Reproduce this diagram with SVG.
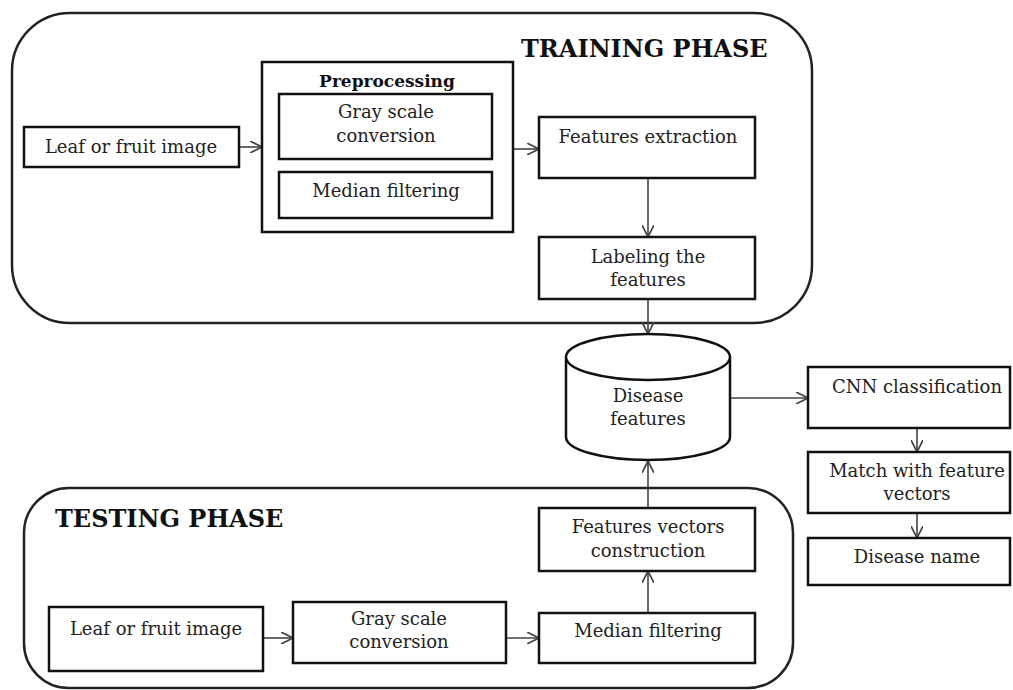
<svg xmlns="http://www.w3.org/2000/svg" width="1013" height="690" viewBox="0 0 1013 690">
<style>
.phase{fill:none;stroke:#222;stroke-width:2.5}
.box{fill:#fff;stroke:#111;stroke-width:2.5}
.t{font-family:"DejaVu Serif","Liberation Serif",serif;font-size:18px;fill:#222;text-anchor:middle}
.h{font-family:"DejaVu Serif","Liberation Serif",serif;font-size:24px;font-weight:bold;fill:#111}
.b{font-family:"DejaVu Serif","Liberation Serif",serif;font-size:17px;font-weight:bold;fill:#111;text-anchor:middle}
.c{fill:none;stroke:#444;stroke-width:1.6;marker-end:url(#arr)}
</style>
<defs>
<marker id="arr" viewBox="0 0 10 10" refX="10" refY="5" markerWidth="12" markerHeight="12" markerUnits="userSpaceOnUse" orient="auto">
<path d="M0,0 L10,5 L0,10" fill="none" stroke="#444" stroke-width="1.4"/>
</marker>
</defs>
<rect width="1013" height="690" fill="#fff"/>
<g id="training-phase">
<rect class="phase" x="12" y="13" width="800" height="310" rx="58" ry="58"/>
<text class="h" x="521" y="57">TRAINING PHASE</text>
</g>
<g id="testing-phase">
<rect class="phase" x="24" y="488" width="769" height="200" rx="45" ry="45"/>
<text class="h" x="55" y="527">TESTING PHASE</text>
</g>
<g id="connectors">
<line class="c" x1="239" y1="147" x2="262" y2="147"/>
<line class="c" x1="513" y1="149" x2="539" y2="149"/>
<line class="c" x1="648" y1="178" x2="648" y2="237"/>
<line class="c" x1="648" y1="299" x2="648" y2="334"/>
<line class="c" x1="730" y1="398" x2="808" y2="398"/>
<line class="c" x1="917" y1="428" x2="917" y2="452"/>
<line class="c" x1="917" y1="513" x2="917" y2="538"/>
<line class="c" x1="263" y1="638" x2="293" y2="638"/>
<line class="c" x1="506" y1="638" x2="539" y2="638"/>
<line class="c" x1="648" y1="613" x2="648" y2="571"/>
<line class="c" x1="648" y1="508" x2="648" y2="461"/>
</g>
<g id="train-leaf">
<rect class="box" x="24" y="127" width="215" height="40"/>
<text class="t" x="131" y="153">Leaf or fruit image</text>
</g>
<g id="preprocessing">
<rect class="box" x="262" y="62" width="251" height="170"/>
<text class="b" x="387" y="87">Preprocessing</text>
</g>
<g id="train-gray">
<rect class="box" x="279" y="94" width="213" height="65"/>
<text class="t" x="386" y="118">Gray scale</text>
<text class="t" x="386" y="142">conversion</text>
</g>
<g id="train-median">
<rect class="box" x="279" y="172" width="213" height="46"/>
<text class="t" x="386" y="197">Median filtering</text>
</g>
<g id="features-extraction">
<rect class="box" x="539" y="117" width="216" height="61"/>
<text class="t" x="648" y="143">Features extraction</text>
</g>
<g id="labeling">
<rect class="box" x="539" y="237" width="216" height="62"/>
<text class="t" x="648" y="263">Labeling the</text>
<text class="t" x="648" y="286">features</text>
</g>
<g id="disease-features">
<path d="M566,357 L566,437 A82,23 0 0 0 730,437 L730,357" fill="#fff" stroke="#111" stroke-width="2.5"/>
<ellipse cx="648" cy="357" rx="82" ry="23" fill="#fff" stroke="#111" stroke-width="2.5"/>
<text class="t" x="648" y="402">Disease</text>
<text class="t" x="648" y="425">features</text>
</g>
<g id="cnn">
<rect class="box" x="808" y="367" width="202" height="61"/>
<text class="t" x="917" y="393">CNN classification</text>
</g>
<g id="match">
<rect class="box" x="808" y="452" width="202" height="61"/>
<text class="t" x="917" y="477">Match with feature</text>
<text class="t" x="917" y="500">vectors</text>
</g>
<g id="disease-name">
<rect class="box" x="808" y="538" width="202" height="47"/>
<text class="t" x="917" y="563">Disease name</text>
</g>
<g id="test-leaf">
<rect class="box" x="49" y="607" width="214" height="64"/>
<text class="t" x="156" y="635">Leaf or fruit image</text>
</g>
<g id="test-gray">
<rect class="box" x="293" y="602" width="213" height="61"/>
<text class="t" x="399" y="625">Gray scale</text>
<text class="t" x="399" y="648">conversion</text>
</g>
<g id="test-median">
<rect class="box" x="539" y="613" width="216" height="50"/>
<text class="t" x="648" y="637">Median filtering</text>
</g>
<g id="feature-vectors">
<rect class="box" x="539" y="508" width="216" height="63"/>
<text class="t" x="648" y="533">Features vectors</text>
<text class="t" x="648" y="557">construction</text>
</g>
</svg>
